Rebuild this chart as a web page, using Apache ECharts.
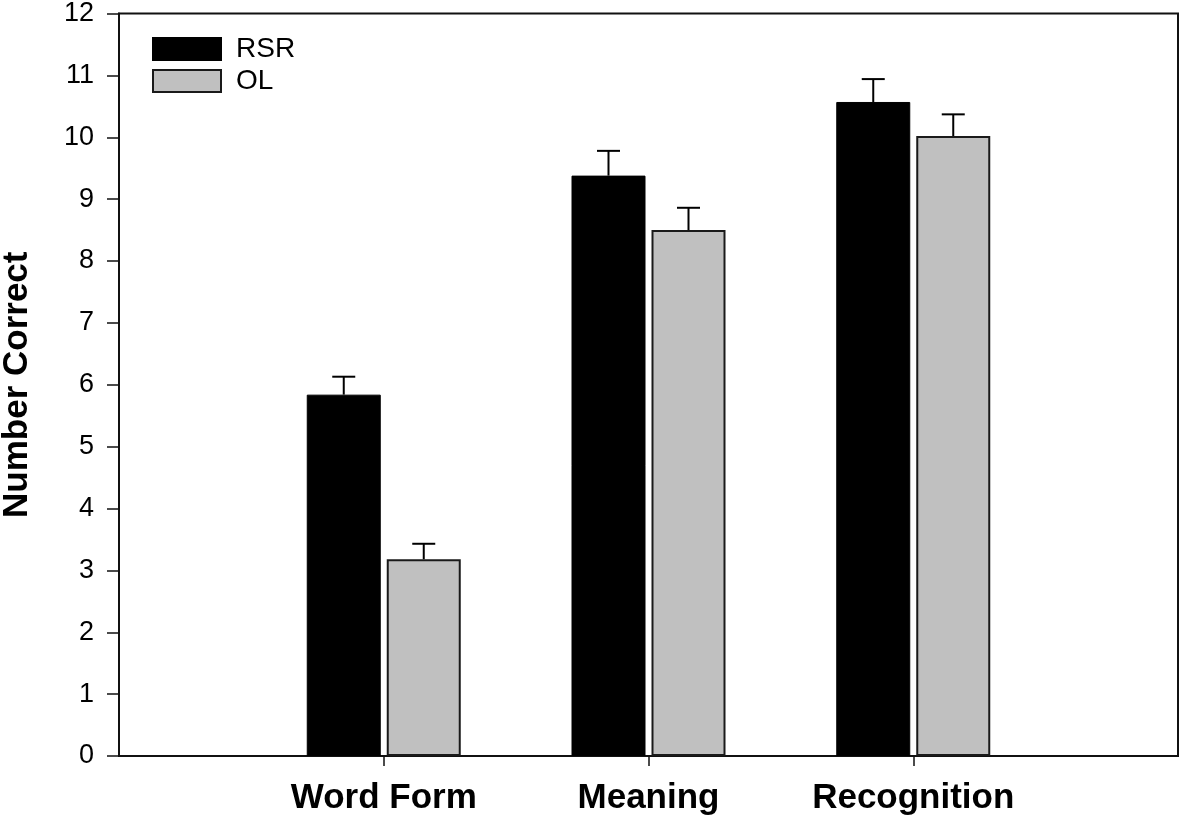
<!DOCTYPE html>
<html>
<head>
<meta charset="utf-8">
<script src="https://cdn.jsdelivr.net/npm/echarts@6/dist/echarts.min.js"></script>
<style>html,body{margin:0;padding:0;background:#fff;}#c{width:1181px;height:818px;}</style>
</head>
<body>
<div id="c"></div>
<script>
const categories = ['', 'Word Form', 'Meaning', 'Recognition', ''];
const rsrValues = ['-', 5.84, 9.38, 10.57, '-'];
const olValues = ['-', 3.18, 8.50, 10.02, '-'];
const rsrErrors = [null, 0.29, 0.40, 0.37, null];
const olErrors = [null, 0.25, 0.36, 0.35, null];
const yTicks = [0,1,2,3,4,5,6,7,8,9,10,11,12];

const FONT = '"Liberation Sans", Arial, sans-serif';
const BAR_W = 74;
const BAR_GAP = 6;
const OFFSET = (BAR_W + BAR_GAP) / 2;

function errorSeries(values, errors, dir) {
  const data = [];
  values.forEach((v, i) => { if (v !== '-') data.push([i, v, v + errors[i]]); });
  return {
    type: 'custom',
    silent: true,
    z: 10,
    data: data,
    renderItem: function (params, api) {
      const x = api.value(0);
      const base = api.coord([x, api.value(1)]);
      const top = api.coord([x, api.value(2)]);
      const cx = base[0] + dir * OFFSET;
      const half = 11.5;
      const style = { stroke: '#000', lineWidth: 2, fill: null };
      return {
        type: 'group',
        children: [
          { type: 'line', shape: { x1: cx, y1: base[1], x2: cx, y2: top[1] }, style: style },
          { type: 'line', shape: { x1: cx - half, y1: top[1], x2: cx + half, y2: top[1] }, style: style }
        ]
      };
    }
  };
}

const chart = echarts.init(document.getElementById('c'));
chart.setOption({
  animation: false,
  backgroundColor: '#fff',
  grid: { left: 119, right: 3, top: 13.5, bottom: 62, containLabel: false, outerBoundsMode: 'none', show: true, borderColor: '#111', borderWidth: 2, backgroundColor: 'transparent' },
  legend: {
    orient: 'vertical',
    left: 147, top: 30,
    itemWidth: 68, itemHeight: 22, itemGap: 4,
    icon: 'rect',
    textStyle: { fontFamily: FONT, fontSize: 28, color: '#000', padding: [0, 0, 0, 10] },
    data: ['RSR', 'OL']
  },
  xAxis: {
    type: 'category',
    data: categories,
    boundaryGap: false,
    axisLine: { show: true, lineStyle: { color: '#111', width: 2 } },
    axisTick: { show: true, length: 10, lineStyle: { color: '#111', width: 1.5 }, interval: (i, v) => v !== '' },
    axisLabel: { interval: 0, margin: 25, fontFamily: FONT, fontSize: 35, fontWeight: 'bold', color: '#000' },
    splitLine: { show: false }
  },
  yAxis: {
    type: 'value',
    min: yTicks[0], max: yTicks[yTicks.length - 1], interval: 1,
    name: 'Number Correct',
    nameLocation: 'middle',
    nameGap: 84,
    nameTextStyle: { fontFamily: FONT, fontSize: 35, fontWeight: 'bold', color: '#000' },
    axisLine: { show: true, lineStyle: { color: '#111', width: 2 } },
    axisTick: { show: true, length: 12, lineStyle: { color: '#111', width: 1.5 } },
    axisLabel: { margin: 25, fontFamily: FONT, fontSize: 27, color: '#000' },
    splitLine: { show: false }
  },
  series: [
    {
      name: 'RSR', type: 'bar', data: rsrValues,
      barWidth: BAR_W, barGap: (BAR_GAP / BAR_W * 100) + '%',
      itemStyle: { color: '#000', borderColor: '#000', borderWidth: 1 }
    },
    {
      name: 'OL', type: 'bar', data: olValues,
      barWidth: BAR_W,
      itemStyle: { color: '#c0c0c0', borderColor: '#1a1a1a', borderWidth: 2 }
    },
    errorSeries(rsrValues, rsrErrors, -1),
    errorSeries(olValues, olErrors, 1)
  ]
});
</script>
</body>
</html>
